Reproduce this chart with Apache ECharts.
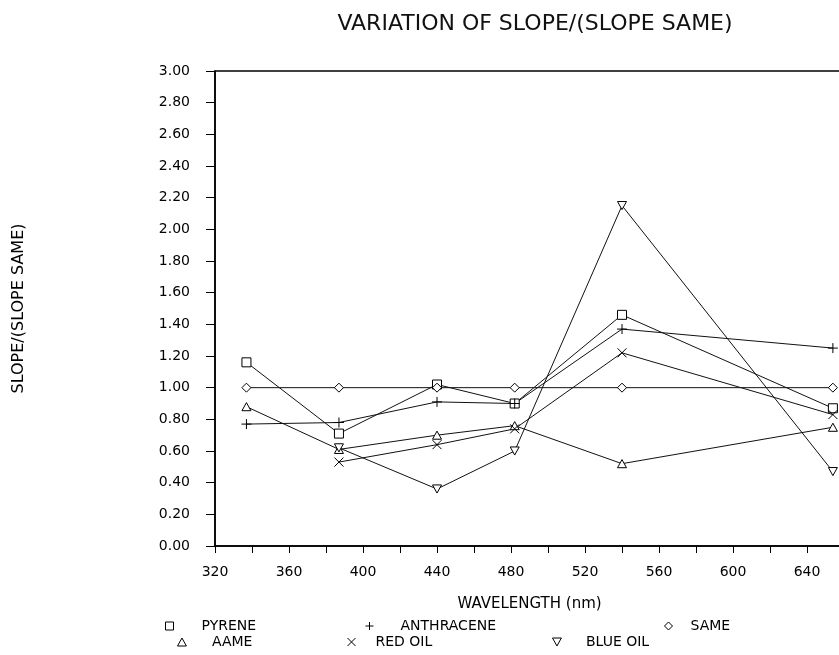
<!DOCTYPE html>
<html>
<head>
<meta charset="utf-8">
<title>Variation of slope</title>
<script src="https://cdn.jsdelivr.net/npm/echarts@6/dist/echarts.min.js"></script>
<style>
  html, body { margin: 0; padding: 0; background: #fff; }
  #chart { width: 839px; height: 655px; }
</style>
</head>
<body>
<div id="chart"></div>
<script>
// wavelengths (nm) of the measured points
var wavelengths = [337, 387, 440, 482, 540, 654];

var seriesNames = ['PYRENE', 'ANTHRACENE', 'SAME', 'AAME', 'RED OIL', 'BLUE OIL'];
var pyrene     = [1.16, 0.71, 1.02, 0.90, 1.46, 0.87];
var anthracene = [0.77, 0.78, 0.91, 0.90, 1.37, 1.25];
var same       = [1.00, 1.00, 1.00, 1.00, 1.00, 1.00];
var aame       = [0.88, 0.61, 0.70, 0.76, 0.52, 0.75];
var redOil     = [null, 0.53, 0.64, 0.74, 1.22, 0.83];
var blueOil    = [null, 0.62, 0.36, 0.60, 2.15, 0.47];

var symbols = [
	'path://M0,0L10,0L10,10L0,10Z',        // square
	'path://M5,0L5,10M0,5L10,5',           // plus
	'path://M5,0L10,5L5,10L0,5Z',          // diamond
	'path://M5,0L10,9L0,9Z',               // triangle
	'path://M0,0L10,10M10,0L0,10',         // cross
	'path://M0,0L10,0L5,9Z'                // inverted triangle
];
var symbolSizes = [9, 10, 9, 9, 9, 9];

// legend: icon centre x, row y, gap from icon centre to text
var legendX   = [171, 370, 660, 181, 345, 555];
var legendY   = [622, 622, 622, 638, 638, 638];
var legendGap = [32, 31, 22, 30, 24, 29];

var fontName = 'DejaVu Sans';

function pairs(values) {
	var out = [];
	for (var i = 0; i < wavelengths.length; i++) {
		if (values[i] != null) out.push([wavelengths[i], values[i]]);
	}
	return out;
}

var allValues = [pyrene, anthracene, same, aame, redOil, blueOil];

var chart = echarts.init(document.getElementById('chart'));

var legends = [];
for (var i = 0; i < seriesNames.length; i++) {
	var w = 2 * (legendGap[i] - 5);
	legends.push({
		left: legendX[i] - w / 2 - 5 + 21,
		top: legendY[i] - 8,
		orient: 'horizontal',
		selectedMode: false,
		itemWidth: w,
		itemHeight: 8,
		symbolKeepAspect: true,
		itemStyle: { color: '#fff', borderColor: '#000', borderWidth: 1 },
		textStyle: { fontFamily: fontName, fontSize: 14, color: '#000' },
		data: [{ name: seriesNames[i], icon: symbols[i] }]
	});
}

var series = [];
for (var i = 0; i < seriesNames.length; i++) {
	series.push({
		name: seriesNames[i],
		type: 'line',
		data: pairs(allValues[i]),
		symbol: symbols[i],
		symbolSize: symbolSizes[i],
		symbolKeepAspect: true,
		showAllSymbol: true,
		silent: true,
		animation: false,
		lineStyle: { color: '#111', width: 1 },
		itemStyle: { color: '#fff', borderColor: '#000', borderWidth: 1 }
	});
}

var option = {
	backgroundColor: '#fff',
	title: {
		text: 'VARIATION OF SLOPE/(SLOPE SAME)',
		left: 530,
		top: 8,
		textAlign: 'center',
		textStyle: { fontFamily: fontName, fontSize: 22, fontWeight: 'normal', color: '#111' }
	},
	legend: legends,
	grid: {
		left: 215,
		right: -5,
		top: 71,
		bottom: 109,
		outerBoundsMode: 'none',
		show: true,
		borderColor: '#000',
		borderWidth: 1.5
	},
	xAxis: {
		type: 'value',
		min: 320,
		max: 660,
		interval: 20,
		name: 'WAVELENGTH (nm)',
		nameLocation: 'middle',
		nameGap: 51,
		nameTextStyle: { fontFamily: fontName, fontSize: 15, color: '#000' },
		splitLine: { show: false },
		axisLine: { lineStyle: { color: '#000', width: 1.5 } },
		axisTick: { length: 7, lineStyle: { color: '#000' } },
		axisLabel: {
			margin: 19,
			fontFamily: fontName,
			fontSize: 14,
			color: '#000',
			formatter: function (v) { return v % 40 === 0 && v <= 640 ? v : ''; }
		}
	},
	yAxis: {
		type: 'value',
		min: 0,
		max: 3,
		interval: 0.2,
		name: 'SLOPE/(SLOPE SAME)',
		nameLocation: 'middle',
		nameGap: 188,
		nameRotate: 90,
		nameTextStyle: { fontFamily: fontName, fontSize: 16, color: '#000' },
		splitLine: { show: false },
		axisLine: { lineStyle: { color: '#000', width: 1.5 } },
		axisTick: { length: 9, lineStyle: { color: '#000' } },
		axisLabel: {
			margin: 25,
			fontFamily: fontName,
			fontSize: 14,
			color: '#000',
			formatter: function (v) { return v.toFixed(2); }
		}
	},
	series: series
};

chart.setOption(option);
</script>
</body>
</html>
